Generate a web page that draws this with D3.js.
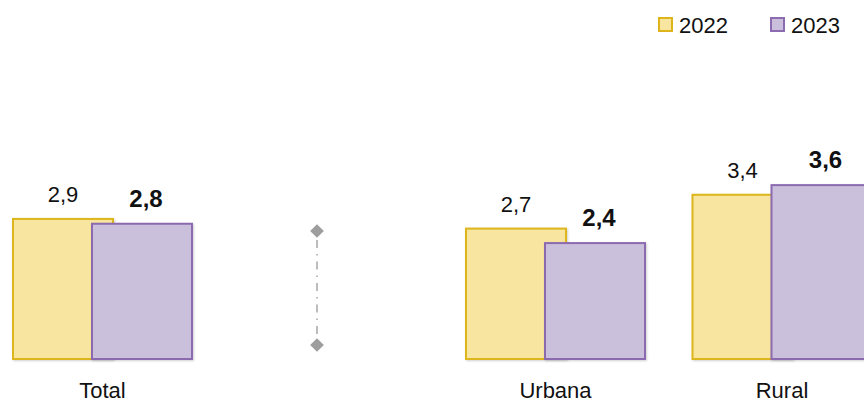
<!DOCTYPE html>
<html>
<head>
<meta charset="utf-8">
<script src="https://cdn.jsdelivr.net/npm/d3@7"></script>
<style>
  html, body { margin: 0; padding: 0; background: #fff; }
  svg { display: block; font-family: "Liberation Sans", Arial, sans-serif; }
</style>
</head>
<body>
<svg id="chart" width="864" height="403"></svg>
<script>
// categories ("" = separator slot between Total and the area breakdown)
var categories = ['Total', '', 'Urbana', 'Rural'];
var years = ['2022', '2023'];
var values2022 = [2.9, null, 2.7, 3.4];
var values2023 = [2.8, null, 2.4, 3.6];

var svg = d3.select('#chart');

var colors = {
  '2022': { fill: '#F8E5A0', stroke: '#DDB51A' },
  '2023': { fill: '#CBC0DB', stroke: '#8C6BB0' }
};

// x: band per category (right end runs past the window, like the source)
var x = d3.scaleBand()
  .domain(categories)
  .range([-10.75, 895.25])
  .padding(0);

var y = d3.scaleLinear()
  .domain([0, 4])
  .range([359, 359 - 4 * 48.3]);

var barW = 100, shift = 79;
var fmt = function(v) { return d3.format('.1f')(v).replace('.', ','); };

// soft shadow like the office export
var defs = svg.append('defs');
var f = defs.append('filter').attr('id', 'shadow')
  .attr('x', '-10%').attr('y', '-10%').attr('width', '130%').attr('height', '130%');
f.append('feDropShadow').attr('dx', 1).attr('dy', 1).attr('stdDeviation', 1.2)
  .attr('flood-color', '#000').attr('flood-opacity', 0.18);

var series = [
  { year: '2022', vals: values2022, off: -shift / 2, bold: false },
  { year: '2023', vals: values2023, off: shift / 2, bold: true }
];

series.forEach(function(s) {
  var g = svg.append('g').attr('class', 'series-' + s.year);
  var rows = categories.map(function(c, i) { return { cat: c, v: s.vals[i] }; })
    .filter(function(d) { return d.v != null; });

  g.selectAll('rect')
    .data(rows)
    .enter()
    .append('rect')
    .attr('x', function(d) { return x(d.cat) + x.bandwidth() / 2 - barW / 2 + s.off; })
    .attr('y', function(d) { return y(d.v); })
    .attr('width', barW)
    .attr('height', function(d) { return y(0) - y(d.v); })
    .attr('fill', colors[s.year].fill)
    .attr('stroke', colors[s.year].stroke)
    .attr('stroke-width', 2)
    .attr('filter', 'url(#shadow)');

  g.selectAll('text')
    .data(rows)
    .enter()
    .append('text')
    .attr('x', function(d) { return x(d.cat) + x.bandwidth() / 2 + s.off + (s.bold ? 4 : 0); })
    .attr('y', function(d) { return y(d.v) - 17; })
    .attr('text-anchor', 'middle')
    .attr('font-size', s.bold ? '24px' : '22px')
    .attr('font-weight', s.bold ? 'bold' : 'normal')
    .attr('fill', '#111')
    .text(function(d) { return fmt(d.v); });
});

// category labels
svg.append('g').selectAll('text')
  .data(categories.filter(function(c) { return c !== ''; }))
  .enter()
  .append('text')
  .attr('x', function(c) { return x(c) + x.bandwidth() / 2; })
  .attr('y', 398)
  .attr('text-anchor', 'middle')
  .attr('font-size', '22px')
  .attr('fill', '#111')
  .text(function(c) { return c; });

// separator between Total and Urbana/Rural
var sepX = x('') + x.bandwidth() / 2 - 12;
var sep = svg.append('g').attr('class', 'separator');
sep.append('line')
  .attr('x1', sepX).attr('x2', sepX)
  .attr('y1', 240).attr('y2', 337)
  .attr('stroke', '#A6A6A6').attr('stroke-width', 1.5)
  .attr('stroke-dasharray', '8,6,1.5,6');
[231, 345].forEach(function(cy) {
  sep.append('path')
    .attr('d', d3.symbol().type(d3.symbolDiamond2).size(120)())
    .attr('transform', 'translate(' + sepX + ',' + cy + ')')
    .attr('fill', '#9E9E9E');
});

// legend
var legend = svg.append('g').attr('class', 'legend');
var legX = [659, 771];
years.forEach(function(yr, i) {
  legend.append('rect')
    .attr('x', legX[i]).attr('y', 18)
    .attr('width', 13).attr('height', 13)
    .attr('fill', colors[yr].fill)
    .attr('stroke', colors[yr].stroke)
    .attr('stroke-width', 2);
  legend.append('text')
    .attr('x', legX[i] + 20).attr('y', 33)
    .attr('font-size', '22px')
    .attr('fill', '#111')
    .text(yr);
});
</script>
</body>
</html>
